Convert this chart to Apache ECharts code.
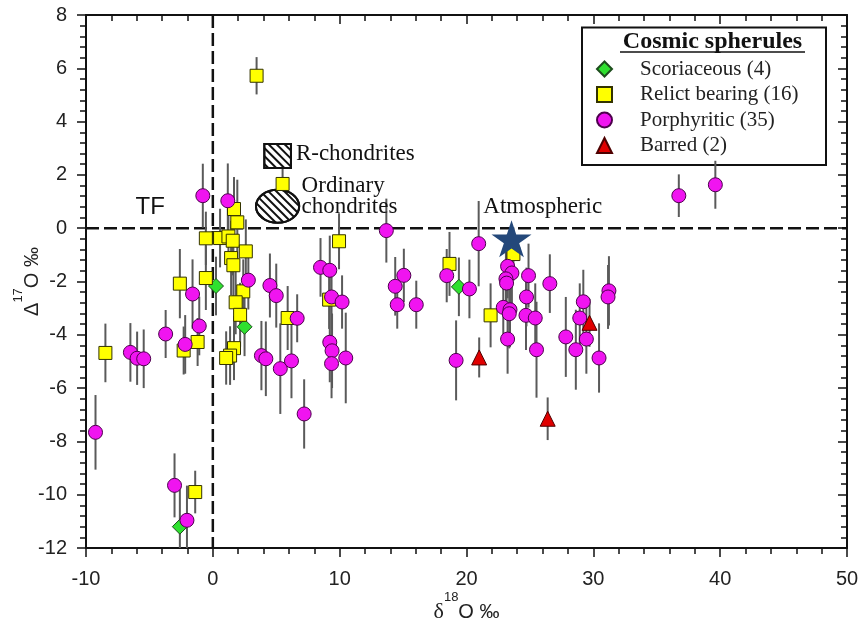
<!DOCTYPE html>
<html>
<head>
<meta charset="utf-8">
<script src="https://cdn.jsdelivr.net/npm/echarts@6.0.0/dist/echarts.min.js"></script>
<style>
html, body { margin: 0; padding: 0; background: #fff; }
#main { width: 862px; height: 626px; }
</style>
</head>
<body>
<div id="main"></div>
<script>
// axis ranges
var xRange = [-10, 50];
var yRange = [-12, 8];

// Scoriaceous (green diamonds)
var scoX   = [0.25, 2.5, 19.4, -2.6];
var scoY   = [-2.17, -3.7, -2.2, -11.2];
var scoErr = [1.1, 1.1, 1.1, 1.4];

// Relict bearing (yellow squares)
var relX   = [3.45, 5.5, 1.67, 1.93, -0.55, 0.57, 1.23, 1.57, 2.6, 1.44, 1.62, -0.55, -2.6, 2.4, 1.8,
              2.15, 5.9, -8.47, -2.3, -1.2, 1.67, 1.36, 1.05, -1.39, 9.95, 18.66, 23.7, 21.9, 9.17];
var relY   = [5.72, 1.66, 0.72, 0.22, -0.38, -0.37, -0.31, -0.47, -0.87, -1.12, -1.39, -1.87, -2.08, -2.37, -2.78,
              -3.25, -3.37, -4.68, -4.59, -4.27, -4.5, -4.78, -4.87, -9.9, -0.49, -1.34, -0.97, -3.27, -2.68];
var relErr = [0.7, 0.6, 1.2, 1.6, 1.0, 1.1, 1.2, 1.3, 1.2, 1.4, 1.3, 1.2, 1.3, 1.2, 1.2,
              1.2, 1.2, 1.1, 0.9, 0.9, 1.2, 1.1, 1.0, 0.8, 1.05, 1.2, 1.0, 1.2, 1.1];

// Porphyritic (magenta circles)
var porX   = [-0.79, 1.18, 2.8, 4.5, 5.0, -1.6, -1.07, -3.72, -6.5, -5.97, -5.45, -2.18, -9.25, -3.02, -2.04,
              3.83, 4.18, 5.32, 6.2, 6.65, 7.2, 13.68, 8.49, 9.22, 9.36, 10.19, 9.22, 9.4, 9.36, 10.48,
              15.06, 14.38, 14.54, 16.04, 18.44, 19.18, 20.96, 20.23, 23.24, 23.58, 23.11, 23.16, 24.89, 26.57, 24.73,
              22.9, 23.43, 23.37, 24.69, 25.42, 23.24, 25.52, 27.83, 28.62, 29.21, 28.93, 29.45, 30.45, 31.23, 31.16,
              36.74, 39.62];
var porY   = [1.22, 1.03, -1.95, -2.15, -2.53, -2.47, -3.67, -3.97, -4.66, -4.88, -4.9, -4.36, -7.66, -9.65, -10.96,
              -4.78, -4.9, -5.27, -4.98, -3.38, -6.97, -0.09, -1.47, -1.58, -2.58, -2.77, -4.28, -4.6, -5.08, -4.87,
              -1.77, -2.18, -2.87, -2.87, -1.78, -4.96, -0.58, -2.28, -1.43, -1.68, -1.9, -2.06, -1.78, -2.08, -2.58,
              -2.97, -3.06, -3.21, -3.27, -3.37, -4.16, -4.56, -4.08, -4.56, -2.76, -3.37, -4.16, -4.87, -2.35, -2.58,
              1.22, 1.63];
var porErr = [1.2, 1.4, 1.1, 1.2, 1.2, 1.3, 1.1, 0.9, 1.1, 1.0, 1.1, 1.1, 1.4, 1.2, 1.3,
              1.3, 1.4, 1.7, 1.4, 0.9, 1.3, 1.2, 1.1, 1.3, 1.2, 1.0, 1.5, 1.4, 1.3, 1.7,
              1.0, 1.1, 0.9, 0.9, 1.0, 1.5, 1.6, 1.1, 1.2, 1.3, 1.2, 1.3, 1.2, 1.1, 1.1,
              1.2, 1.4, 1.3, 1.3, 1.3, 1.3, 1.8, 1.5, 1.5, 1.2, 1.3, 1.3, 1.3, 1.3, 1.2,
              0.8, 0.9];

// Barred (red triangles)
var barX   = [21.0, 26.4, 29.7];
var barY   = [-4.85, -7.15, -3.55];
var barErr = [0.75, 0.8, 0.9];

// Atmospheric (star)
var atmX = [23.55];
var atmY = [-0.4];

// reference fields: [xmin, xmax, ymin, ymax, shape]  shape 0 = box, 1 = ellipse
var fieldNames = ['R-chondrites', 'Ordinary chondrites'];
var fieldBox   = [[4.06, 6.16, 2.26, 3.16, 0], [3.4, 6.81, 0.2, 1.44, 1]];

// annotation texts and anchors (left edge, vertical middle)
var noteText = ['R-chondrites', 'Ordinary\nchondrites', 'Atmospheric', 'TF'];
var noteX    = [6.55, 7.0, 21.33, -6.1];
var noteY    = [2.78, 1.18, 0.8, 0.8];
var noteFont = ['23px "Liberation Serif"', '23px "Liberation Serif"', '23px "Liberation Serif"', '24px "Liberation Sans"'];

var legendNames = ['Scoriaceous (4)', 'Relict bearing (16)', 'Porphyritic (35)', 'Barred (2)'];

function pts(xs, ys) { return xs.map(function (x, i) { return [x, ys[i]]; }); }
function errPts(xs, ys, es) { return xs.map(function (x, i) { return [x, ys[i], es[i]]; }); }

var allErr = [].concat(
    errPts(scoX, scoY, scoErr), errPts(relX, relY, relErr),
    errPts(porX, porY, porErr), errPts(barX, barY, barErr));

var starPath = 'path://M50,0 L61.2,34.5 L97.6,34.5 L68.2,55.9 L79.4,90.5 L50,69.1 L20.6,90.5 L31.8,55.9 L2.4,34.5 L38.8,34.5 Z';

var myChart = echarts.init(document.getElementById('main'));

var axisLineStyle = { color: '#111', width: 2 };
var tickStyle = { color: '#111', width: 1.5 };

function xAx(pos, main) {
    return {
        type: 'value', min: xRange[0], max: xRange[1], interval: 10, position: pos,
        axisLine: { onZero: false, lineStyle: axisLineStyle },
        axisTick: { inside: !main, length: 9, lineStyle: tickStyle },
        minorTick: { show: true, splitNumber: 5, length: 6, lineStyle: tickStyle },
        splitLine: { show: false },
        axisLabel: { show: main, fontSize: 20, fontFamily: 'Liberation Sans', color: '#222', margin: 21 },
        name: main ? '{g|δ}{s|18}{n|O ‰}' : '',
        nameLocation: 'middle', nameGap: 43, nameMoveOverlap: false,
        nameTextStyle: {
            rich: {
                g: { fontFamily: 'Liberation Serif', fontSize: 22, color: '#222', padding: [10, 0, 0, 0] },
                s: { fontFamily: 'Liberation Sans', fontSize: 13, color: '#222', verticalAlign: 'top' },
                n: { fontFamily: 'Liberation Sans', fontSize: 20, color: '#222', padding: [10, 0, 0, 0] }
            }
        }
    };
}
function yAx(pos, main) {
    return {
        type: 'value', min: yRange[0], max: yRange[1], interval: 2, position: pos,
        axisLine: { onZero: false, lineStyle: axisLineStyle },
        axisTick: { inside: !main, length: 9, lineStyle: tickStyle },
        minorTick: { show: true, splitNumber: 5, length: 6, lineStyle: tickStyle },
        splitLine: { show: false },
        axisLabel: { show: main, fontSize: 20, fontFamily: 'Liberation Sans', color: '#222', margin: 19 },
        name: main ? '{g|Δ}{s|17}{n|O ‰}' : '',
        nameLocation: 'middle', nameGap: 44, nameRotate: 90, nameMoveOverlap: false,
        nameTextStyle: {
            rich: {
                g: { fontFamily: 'Liberation Sans', fontSize: 20, color: '#222', padding: [10, 0, 0, 0] },
                s: { fontFamily: 'Liberation Sans', fontSize: 13, color: '#222', verticalAlign: 'top' },
                n: { fontFamily: 'Liberation Sans', fontSize: 20, color: '#222', padding: [10, 0, 0, 0] }
            }
        }
    };
}

function scatterSeries(name, symbol, size, fill, border, data) {
    return {
        name: name, type: 'scatter', symbol: symbol, symbolSize: size, z: 4,
        itemStyle: { color: fill, borderColor: border, borderWidth: 1, opacity: 1 },
        data: data
    };
}

option = {
    animation: false,
    backgroundColor: '#fff',
    grid: { left: 86, right: 15, top: 15, bottom: 78, outerBoundsMode: 'none', containLabel: false },
    xAxis: [xAx('bottom', true), xAx('top', false)],
    yAxis: [yAx('left', true), yAx('right', false)],
    legend: {
        data: legendNames, orient: 'vertical', left: 596, top: 58.5,
        padding: 0, itemGap: 4.5, itemWidth: 15, itemHeight: 15, selectedMode: false,
        textStyle: { fontFamily: 'Liberation Serif', fontSize: 21, color: '#222', lineHeight: 21, padding: [0, 0, 0, 23] }
    },
    graphic: [
        { type: 'rect', z: 0, shape: { x: 582, y: 27.5, width: 244, height: 137.5 },
          style: { fill: '#fff', stroke: '#111', lineWidth: 2 } },
        { type: 'text', z: 1, x: 712.5, y: 42,
          style: { text: 'Cosmic spherules', font: 'bold 24px "Liberation Serif"', fill: '#111',
                   align: 'center', verticalAlign: 'middle' } },
        { type: 'line', z: 1, shape: { x1: 620, y1: 52, x2: 805, y2: 52 },
          style: { stroke: '#111', lineWidth: 1.5 } }
    ],
    series: [
        {   // TF and x = 0 reference lines
            name: 'ref', type: 'custom', z: 1, silent: true,
            data: [[0, 0]],
            renderItem: function (params, api) {
                var cs = params.coordSys;
                var p = api.coord([api.value(0), api.value(1)]);
                var st = { stroke: '#111', lineWidth: 2.5, lineDash: [13, 5] };
                return { type: 'group', children: [
                    { type: 'line', shape: { x1: cs.x, y1: p[1], x2: cs.x + cs.width, y2: p[1] }, style: st },
                    { type: 'line', shape: { x1: p[0], y1: cs.y, x2: p[0], y2: cs.y + cs.height }, style: st }
                ] };
            }
        },
        {   // error bars
            name: 'err', type: 'custom', z: 2, silent: true,
            data: allErr,
            encode: { x: 0, y: 1 },
            renderItem: function (params, api) {
                var x = api.value(0), y = api.value(1), e = api.value(2);
                var a = api.coord([x, Math.min(y + e, yRange[1])]);
                var b = api.coord([x, Math.max(y - e, yRange[0])]);
                return { type: 'line', shape: { x1: a[0], y1: a[1], x2: b[0], y2: b[1] },
                         style: { stroke: '#5a5a5a', lineWidth: 2 } };
            }
        },
        {   // hatched reference fields
            name: 'fields', type: 'custom', z: 3, silent: true,
            data: fieldBox,
            renderItem: function (params, api) {
                var tl = api.coord([api.value(0), api.value(3)]);
                var br = api.coord([api.value(1), api.value(2)]);
                var kind = api.value(4);
                var L = tl[0], T = tl[1], R = br[0], B = br[1];
                var w = R - L, h = B - T, sp = 8;
                var lines = [];
                var hs = { stroke: '#111', lineWidth: 2 };
                var k, x0, x1;
                if (kind === 0) {
                    for (k = L - B + sp / 2; k < R - T; k += sp) {
                        x0 = Math.max(L, T + k); x1 = Math.min(R, B + k);
                        if (x1 > x0) lines.push({ type: 'line', shape: { x1: x0, y1: x0 - k, x2: x1, y2: x1 - k }, style: hs });
                    }
                    return { type: 'group', children: [
                        { type: 'rect', shape: { x: L, y: T, width: w, height: h }, style: { fill: '#fff', stroke: '#111', lineWidth: 2 } }
                    ].concat(lines).concat([
                        { type: 'rect', shape: { x: L, y: T, width: w, height: h }, style: { fill: 'none', stroke: '#111', lineWidth: 2 } }
                    ]) };
                }
                var cx = (L + R) / 2, cy = (T + B) / 2, ra = w / 2, rb = h / 2;
                var A = 1 / (ra * ra) + 1 / (rb * rb);
                for (var s = -(ra + rb) + sp / 2; s < ra + rb; s += sp) {
                    var Bq = -2 * s / (rb * rb), Cq = s * s / (rb * rb) - 1;
                    var disc = Bq * Bq - 4 * A * Cq;
                    if (disc <= 0) continue;
                    var u0 = (-Bq - Math.sqrt(disc)) / (2 * A), u1 = (-Bq + Math.sqrt(disc)) / (2 * A);
                    lines.push({ type: 'line', shape: { x1: cx + u0, y1: cy + u0 - s, x2: cx + u1, y2: cy + u1 - s }, style: hs });
                }
                return { type: 'group', children: [
                    { type: 'ellipse', shape: { cx: cx, cy: cy, rx: ra, ry: rb }, style: { fill: '#fff', stroke: '#111', lineWidth: 2 } }
                ].concat(lines).concat([
                    { type: 'ellipse', shape: { cx: cx, cy: cy, rx: ra, ry: rb }, style: { fill: 'none', stroke: '#111', lineWidth: 2 } }
                ]) };
            }
        },
        scatterSeries(legendNames[0], 'diamond', 15, '#2fe02f', '#1d4d1d', pts(scoX, scoY)),
        scatterSeries(legendNames[1], 'rect', 13, '#ffff00', '#333300', pts(relX, relY)),
        scatterSeries(legendNames[2], 'circle', 14, '#f014f0', '#4d004d', pts(porX, porY)),
        scatterSeries(legendNames[3], 'triangle', 15, '#e00000', '#4d0000', pts(barX, barY)),
        {
            name: 'Atmospheric', type: 'scatter', symbol: starPath, symbolSize: [40, 37], z: 5,
            itemStyle: { color: '#24487a', opacity: 1 },
            data: pts(atmX, atmY)
        },
        {   // annotations
            name: 'notes', type: 'custom', z: 6, silent: true, clip: false,
            data: noteX.map(function (x, i) { return [x, noteY[i], i]; }),
            renderItem: function (params, api) {
                var i = api.value(2);
                var p = api.coord([api.value(0), api.value(1)]);
                return { type: 'text', x: p[0], y: p[1],
                         style: { text: noteText[i], font: noteFont[i], fill: '#111', lineHeight: 21,
                                  align: 'left', verticalAlign: 'middle' } };
            }
        }
    ]
};
myChart.setOption(option);
</script>
</body>
</html>
